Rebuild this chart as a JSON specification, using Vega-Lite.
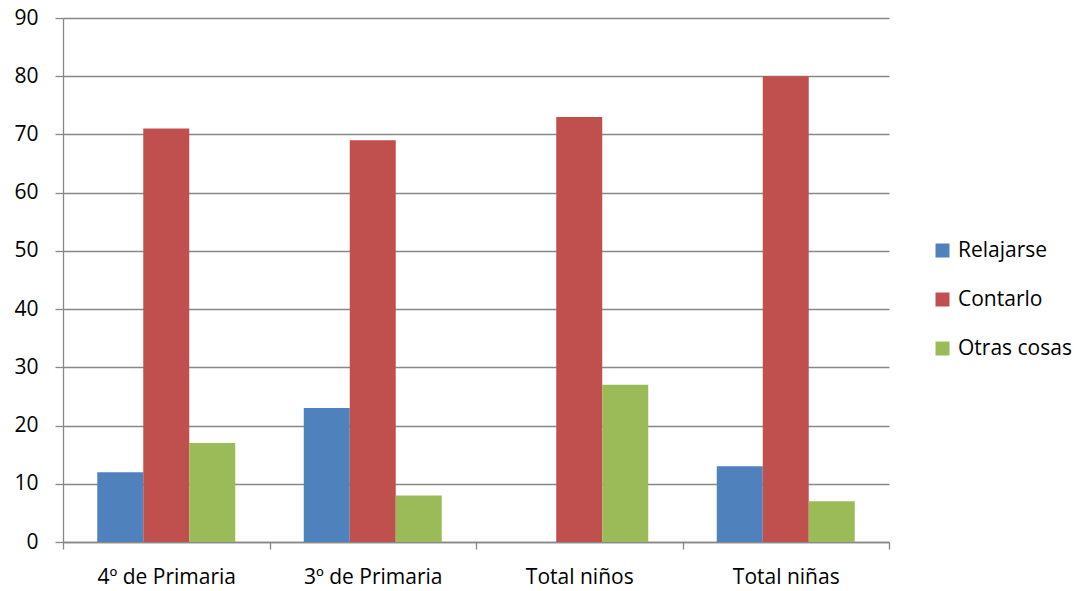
{
  "$schema": "https://vega.github.io/schema/vega-lite/v6.json",
  "autosize": {"type": "none"},
  "width": 826,
  "height": 524,
  "padding": {"left": 63, "top": 18, "right": 194, "bottom": 49},
  "background": "white",
  "data": {
    "values": [
      {"grupo": "4º de Primaria", "serie": "Relajarse", "valor": 12},
      {"grupo": "4º de Primaria", "serie": "Contarlo", "valor": 71},
      {"grupo": "4º de Primaria", "serie": "Otras cosas", "valor": 17},
      {"grupo": "3º de Primaria", "serie": "Relajarse", "valor": 23},
      {"grupo": "3º de Primaria", "serie": "Contarlo", "valor": 69},
      {"grupo": "3º de Primaria", "serie": "Otras cosas", "valor": 8},
      {"grupo": "Total niños", "serie": "Relajarse", "valor": 0},
      {"grupo": "Total niños", "serie": "Contarlo", "valor": 73},
      {"grupo": "Total niños", "serie": "Otras cosas", "valor": 27},
      {"grupo": "Total niñas", "serie": "Relajarse", "valor": 13},
      {"grupo": "Total niñas", "serie": "Contarlo", "valor": 80},
      {"grupo": "Total niñas", "serie": "Otras cosas", "valor": 7}
    ]
  },
  "config": {
    "font": "Open Sans",
    "view": {"stroke": null}
  },
  "mark": {"type": "bar"},
  "encoding": {
    "x": {
      "field": "grupo",
      "type": "nominal",
      "sort": null,
      "scale": {"paddingInner": 0, "paddingOuter": 0},
      "axis": {
        "title": null,
        "labelAngle": 0,
        "labelFontSize": 21,
        "labelColor": "#000000",
        "labelPadding": 17,
        "domainColor": "#888888",
        "domainWidth": 1.3,
        "tickColor": "#888888",
        "tickWidth": 1.3,
        "tickSize": 7,
        "tickBand": "extent",
        "grid": false
      }
    },
    "xOffset": {
      "field": "serie",
      "type": "nominal",
      "sort": ["Relajarse", "Contarlo", "Otras cosas"],
      "scale": {"paddingInner": 0, "paddingOuter": 0.745}
    },
    "y": {
      "field": "valor",
      "type": "quantitative",
      "scale": {"domain": [0, 90], "nice": false},
      "axis": {
        "title": null,
        "values": [0, 10, 20, 30, 40, 50, 60, 70, 80, 90],
        "labelFontSize": 21,
        "labelColor": "#000000",
        "labelPadding": 17,
        "domainColor": "#888888",
        "domainWidth": 1.3,
        "tickColor": "#888888",
        "tickWidth": 1.3,
        "tickSize": 8,
        "gridColor": "#888888",
        "gridWidth": 1.3
      }
    },
    "color": {
      "field": "serie",
      "type": "nominal",
      "sort": ["Relajarse", "Contarlo", "Otras cosas"],
      "scale": {
        "domain": ["Relajarse", "Contarlo", "Otras cosas"],
        "range": ["#4F81BD", "#C0504D", "#9BBB59"]
      },
      "legend": {
        "title": null,
        "orient": "none",
        "legendX": 869,
        "legendY": 222,
        "symbolType": "square",
        "symbolSize": 196,
        "symbolStrokeWidth": 0,
        "symbolOpacity": 1,
        "labelFontSize": 21,
        "labelColor": "#000000",
        "labelOffset": 5,
        "rowPadding": 27
      }
    }
  }
}
